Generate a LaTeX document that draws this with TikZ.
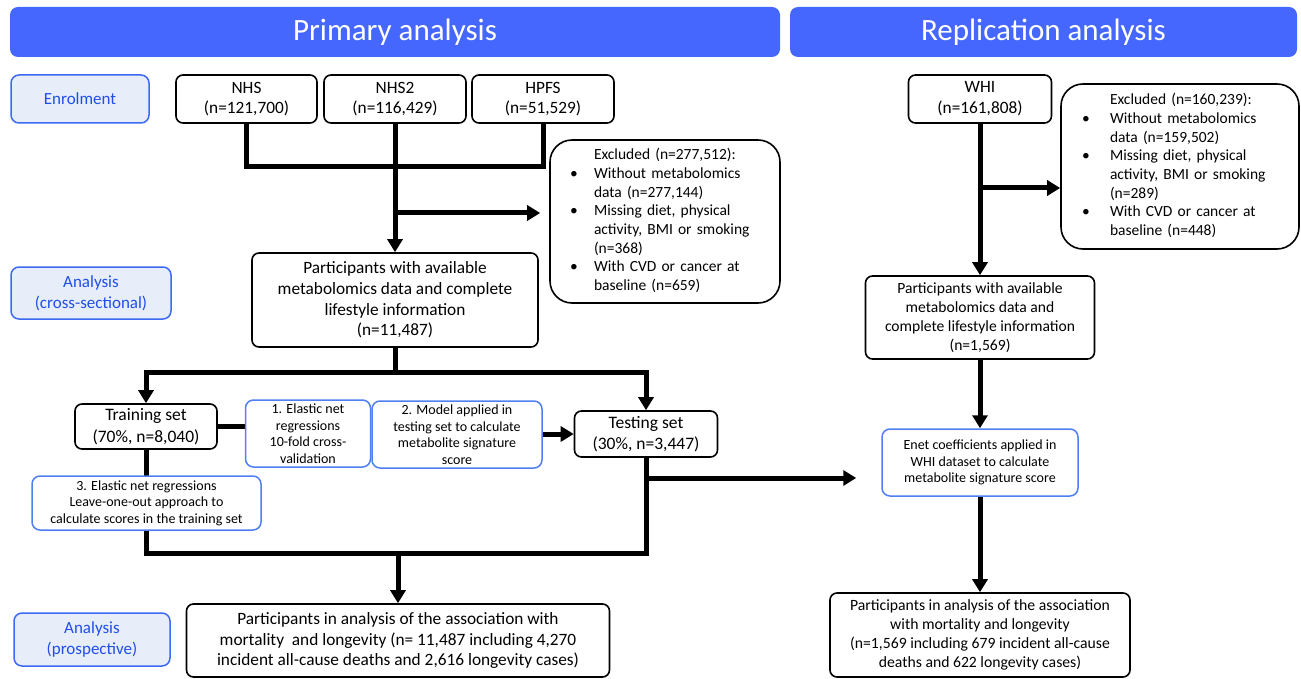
\documentclass[tikz,border=0pt]{standalone}
\usepackage{fontspec}
\setmainfont{Carlito}
\usetikzlibrary{arrows.meta,backgrounds}
\definecolor{hdrblue}{HTML}{4567FE}
\definecolor{labfill}{HTML}{E8EDFA}
\definecolor{labline}{HTML}{3C6AF2}
\definecolor{labtext}{HTML}{1F4FE8}
\definecolor{mline}{HTML}{4F7FF2}
\begin{document}
\begin{tikzpicture}[x=1pt,y=-1pt,
  hdr/.style={fill=hdrblue, rounded corners=8pt, text=white, inner sep=0pt,
    font=\fontsize{31}{36}\selectfont},
  lab/.style={fill=labfill, draw=labline, line width=1.5pt, rounded corners=8pt,
    text=labtext, inner sep=0pt, align=center, font=\fontsize{17}{21}\selectfont},
  bx/.style={draw=black, fill=white, line width=1.6pt, rounded corners=7pt,
    inner sep=0pt, align=center, font=\fontsize{17.3}{20.7}\selectfont},
  mbox/.style={draw=mline, fill=white, line width=1.5pt, rounded corners=8pt,
    inner sep=0pt, align=center, font=\fontsize{14}{16.6}\selectfont},
  exbox/.style={draw=black, fill=white, line width=1.6pt, rounded corners=22pt,
    inner ysep=0pt, align=left, font=\fontsize{15.5}{18.7}\selectfont},
  flow/.style={draw=black, line width=5pt, line join=miter},
  arr/.style={flow, -{Triangle[length=13pt,width=15pt]}},
  darr/.style={flow, {Triangle[length=13pt,width=15pt]}-{Triangle[length=13pt,width=15pt]}}
]
\useasboundingbox (0,0) rectangle (1301,679);

% headers
\node[hdr, minimum width=770pt, minimum height=50pt] (h1) at (395,32) {Primary analysis};
\node[hdr, minimum width=507pt, minimum height=50pt] (h2) at (1043.5,32) {Replication analysis};

% left labels
\node[lab, minimum width=138pt, minimum height=48pt] (l1) at (80,99) {Enrolment};
\node[lab, minimum width=160pt, minimum height=52pt] (l2) at (91,293) {Analysis\\(cross-sectional)};
\node[lab, minimum width=156pt, minimum height=53pt] (l3) at (92,639.5) {Analysis\\(prospective)};

% primary column
\node[bx, minimum width=141pt, minimum height=48pt] (nhs) at (246.5,99) {NHS\\(n=121,700)};
\node[bx, minimum width=142pt, minimum height=48pt] (nhs2) at (395,99) {NHS2\\(n=116,429)};
\node[bx, minimum width=142pt, minimum height=48pt] (hpfs) at (543,99) {HPFS\\(n=51,529)};

\node[exbox, minimum width=230pt, minimum height=163pt, text width=190pt, inner xsep=20pt] (exc1) at (665,221.5) {%
\begin{tabular}{@{}p{24pt}@{}l@{}}
 & Excluded (n=277,512):\\
\textbullet & Without metabolomics\\
 & data (n=277,144)\\
\textbullet & Missing diet, physical\\
 & activity, BMI or smoking\\
 & (n=368)\\
\textbullet & With CVD or cancer at\\
 & baseline (n=659)
\end{tabular}};

\node[bx, minimum width=286pt, minimum height=94pt] (part1) at (395,300)
 {Participants with available\\metabolomics data and complete\\lifestyle information\\(n=11,487)};

\node[bx, minimum width=142pt, minimum height=45pt, font=\fontsize{17.5}{22}\selectfont] (train) at (146,426.5) {Training set\\(70\%, n=8,040)};
\node[mbox, minimum width=125pt, minimum height=67pt] (m1) at (308,433.5) {1. Elastic net\\regressions\\10-fold cross-\\validation};
\node[mbox, minimum width=170pt, minimum height=67pt] (m2) at (457,434.5) {2. Model applied in\\testing set to calculate\\metabolite signature\\score};
\node[bx, minimum width=143pt, minimum height=46pt, font=\fontsize{17.5}{21}\selectfont] (test) at (646,434) {Testing set\\(30\%, n=3,447)};
\node[mbox, minimum width=229pt, minimum height=54pt] (m3) at (146.5,503) {3. Elastic net regressions\\Leave-one-out approach to\\calculate scores in the training set};

\node[bx, minimum width=423pt, minimum height=73pt] (fin1) at (398,640.5)
 {Participants in analysis of the association with\\mortality\ \ and longevity (n= 11,487 including 4,270\\incident all-cause deaths and 2,616 longevity cases)};

% replication column
\node[bx, minimum width=143pt, minimum height=48pt] (whi) at (980,99) {WHI\\(n=161,808)};
\node[exbox, minimum width=238pt, minimum height=165pt, text width=196pt, inner xsep=21pt] (exc2) at (1180,166.5) {%
\begin{tabular}{@{}p{28pt}@{}l@{}}
 & Excluded (n=160,239):\\
\textbullet & Without metabolomics\\
 & data (n=159,502)\\
\textbullet & Missing diet, physical\\
 & activity, BMI or smoking\\
 & (n=289)\\
\textbullet & With CVD or cancer at\\
 & baseline (n=448)
\end{tabular}};
\node[bx, minimum width=229pt, minimum height=83pt, font=\fontsize{15.6}{19}\selectfont] (part2) at (980,317.5)
 {Participants with available\\metabolomics data and\\complete lifestyle information\\(n=1,569)};
\node[mbox, minimum width=196pt, minimum height=67pt] (enet) at (980,462.5)
 {Enet coefficients applied in\\WHI dataset to calculate\\metabolite signature score};
\node[bx, minimum width=300pt, minimum height=84pt, font=\fontsize{15.7}{19}\selectfont] (fin2) at (980,635)
 {Participants in analysis of the association\\with mortality and longevity\\(n=1,569 including 679 incident all-cause\\deaths and 622 longevity cases)};

% connectors
\coordinate (jA) at (395,167);
\coordinate (jB) at (395,213);
\coordinate (jC) at (395,372);
\coordinate (jD) at (398,553);
\coordinate (jE) at (646,478);
\coordinate (jF) at (980,188);
\begin{scope}[on background layer]
\draw[flow] (nhs.south) |- (jA) -| (hpfs.south);
\draw[arr] (nhs2.south) -- (part1.north);
\draw[arr, shorten >=9pt] (jB) -- (exc1.west |- jB);
\draw[flow] (part1.south) -- (jC);
\draw[darr] (train.north) |- (jC) -| (test.north);
\draw[flow] (train.east) -- (m1.west |- train.east);
\draw[arr] (m2.east |- test.west) -- (test.west);
\draw[flow] (train.south) |- (jD) -| (test.south);
\draw[arr] (jD) -- (fin1.north);
\draw[arr, shorten >=25pt] (jE) -- (enet.west |- jE);
\draw[arr] (whi.south) -- (part2.north);
\draw[arr] (jF) -- (exc2.west |- jF);
\draw[arr] (part2.south) -- (enet.north);
\draw[arr] (enet.south) -- (fin2.north);
\end{scope}
\end{tikzpicture}
\end{document}
